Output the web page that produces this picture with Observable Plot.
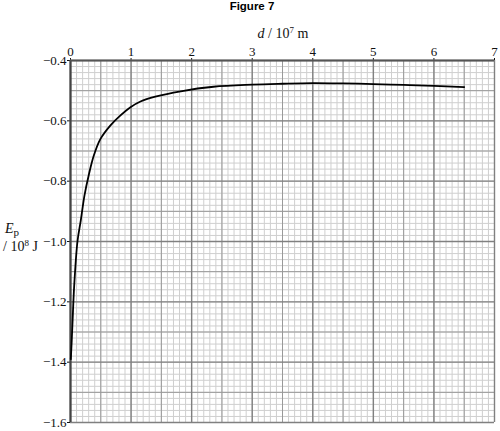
<!DOCTYPE html>
<html>
<head>
<meta charset="utf-8">
<script src="https://cdn.jsdelivr.net/npm/d3@7"></script>
<script src="https://cdn.jsdelivr.net/npm/@observablehq/plot@0.6"></script>
<style>
  html, body { margin: 0; padding: 0; background: white; }
  #chart svg { display: block; }
</style>
</head>
<body>
<div id="chart"></div>
<script>
// Distance d / 10^7 m
const dValues = [0.005, 0.02, 0.035, 0.06, 0.115, 0.17, 0.231, 0.30, 0.385, 0.495, 0.66, 0.825, 0.99, 1.155, 1.4, 1.82, 2.36, 3.0, 3.5, 4.0, 4.5, 5.0, 5.5, 6.0, 6.5];
// Potential energy Ep / 10^8 J
const epValues = [-1.39, -1.33, -1.26, -1.15, -1.00, -0.93, -0.847, -0.781, -0.715, -0.660, -0.615, -0.582, -0.555, -0.536, -0.520, -0.502, -0.487, -0.480, -0.477, -0.475, -0.476, -0.478, -0.481, -0.484, -0.488];
// Tick labels
const xTicks = [0, 1, 2, 3, 4, 5, 6, 7];
const yTicks = [-1.6, -1.4, -1.2, -1.0, -0.8, -0.6, -0.4];

const points = dValues.map((d, i) => ({d, ep: epValues[i]}));

// graph-paper grid positions
const minorX = d3.range(0, 70.5, 1).map(v => v / 10);
const midX = d3.range(0, 7.01, 0.5).filter(v => v % 1 !== 0);
const minorY = d3.range(-80, -19.5, 1).map(v => v / 50);
const midY = d3.range(-16, -3.5, 1).map(v => v / 10).filter(v => Math.round(v * 10) % 2 !== 0);

const fmtY = v => (v < 0 ? "\u2212" : "") + Math.abs(v).toFixed(1);
const SERIF = "'Liberation Serif', 'Times New Roman', serif";

const plot = Plot.plot({
  width: 500,
  height: 431,
  marginTop: 60,
  marginLeft: 70,
  marginRight: 6,
  marginBottom: 9,
  style: {background: "white", color: "#111", fontFamily: SERIF, fontSize: "13px"},
  x: {domain: [0, 7], axis: "top", ticks: xTicks, tickSize: 3, tickPadding: 2, tickFormat: v => String(v), label: null},
  y: {domain: [-1.6, -0.4], ticks: yTicks, tickSize: 3, tickPadding: 1, tickFormat: fmtY, label: null},
  marks: [
    Plot.ruleX(minorX, {stroke: "#cfcfcf", strokeWidth: 1}),
    Plot.ruleY(minorY, {stroke: "#cfcfcf", strokeWidth: 1}),
    Plot.ruleX(midX, {stroke: "#999", strokeWidth: 1}),
    Plot.ruleY(midY, {stroke: "#999", strokeWidth: 1}),
    Plot.ruleX(xTicks, {stroke: "#808080", strokeWidth: 1.4}),
    Plot.ruleY(yTicks, {stroke: "#808080", strokeWidth: 1.4}),
    Plot.ruleX([0], {stroke: "#444", strokeWidth: 2.2}),
    Plot.ruleY([-0.4], {stroke: "#555", strokeWidth: 2}),
    Plot.line(points, {x: "d", y: "ep", curve: "catmull-rom", stroke: "black", strokeWidth: 1.8})
  ]
});

document.getElementById("chart").appendChild(plot);

const svg = d3.select(plot);

// Title
svg.append("text")
  .attr("x", 252).attr("y", 10)
  .attr("text-anchor", "middle")
  .style("font-family", "'Liberation Sans', Arial, sans-serif")
  .style("font-weight", "bold")
  .style("font-size", "11.5px")
  .attr("fill", "black")
  .text("Figure 7");

// x-axis label
const xl = svg.append("text")
  .attr("x", 283).attr("y", 38)
  .attr("text-anchor", "middle")
  .style("font-family", SERIF)
  .style("font-size", "14px")
  .attr("fill", "#111");
xl.append("tspan").style("font-style", "italic").text("d");
xl.append("tspan").text(" / 10");
xl.append("tspan").attr("dy", -5).style("font-size", "9px").text("7");
xl.append("tspan").attr("dy", 5).text(" m");

// y-axis label
const yl1 = svg.append("text")
  .attr("x", 5).attr("y", 233)
  .attr("text-anchor", "start")
  .style("font-family", SERIF)
  .style("font-size", "14px")
  .attr("fill", "#111");
yl1.append("tspan").style("font-style", "italic").text("E");
yl1.append("tspan").attr("dy", 3).style("font-size", "11px").text("p");

const yl2 = svg.append("text")
  .attr("x", 3).attr("y", 251)
  .attr("text-anchor", "start")
  .style("font-family", SERIF)
  .style("font-size", "14px")
  .attr("fill", "#111");
yl2.append("tspan").text("/ 10");
yl2.append("tspan").attr("dy", -5).style("font-size", "9px").text("8");
yl2.append("tspan").attr("dy", 5).text(" J");
</script>
</body>
</html>
